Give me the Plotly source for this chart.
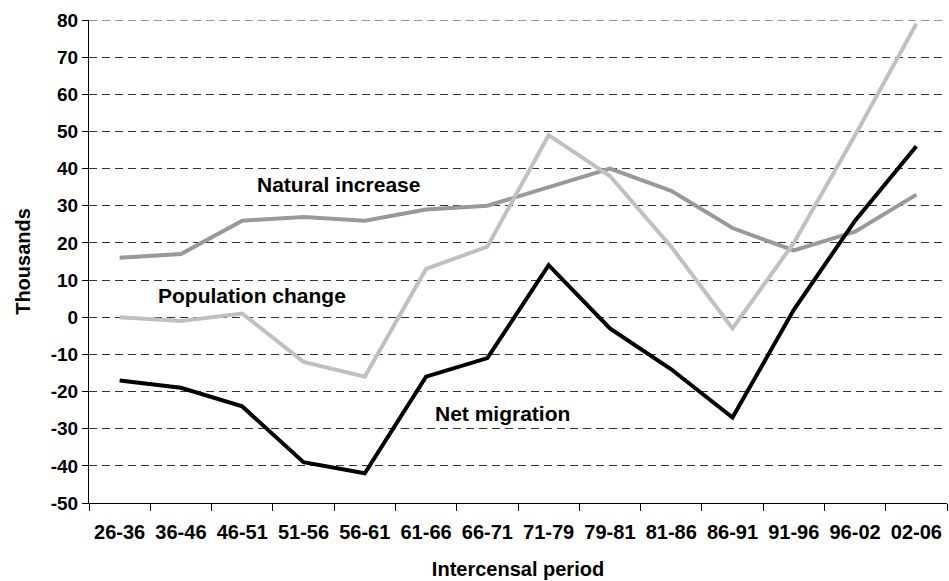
import plotly.graph_objects as go

periods = ["26-36", "36-46", "46-51", "51-56", "56-61", "61-66", "66-71",
           "71-79", "79-81", "81-86", "86-91", "91-96", "96-02", "02-06"]
natural_increase = [16, 17, 26, 27, 26, 29, 30, 35, 40, 34, 24, 18, 23, 33]
population_change = [0, -1, 1, -12, -16, 13, 19, 49, 38, 19, -3, 20, 49, 79]
net_migration = [-17, -19, -24, -39, -42, -16, -11, 14, -3, -14, -27, 2, 26, 46]
y_ticks = [-50, -40, -30, -20, -10, 0, 10, 20, 30, 40, 50, 60, 70, 80]
y_tick_labels = ["-50", "-40", "-30", "-20", "-10", "0", "10", "20", "30",
                 "40", "50", "60", "70", "80"]
y_max = 80

FONT = "Liberation Sans, Arial, sans-serif"

fig = go.Figure()
fig.add_trace(go.Scatter(x=periods, y=natural_increase, mode="lines",
                         name="Natural increase", line=dict(color="#999999", width=4)))
fig.add_trace(go.Scatter(x=periods, y=population_change, mode="lines",
                         name="Population change", line=dict(color="#c0c0c0", width=4)))
fig.add_trace(go.Scatter(x=periods, y=net_migration, mode="lines",
                         name="Net migration", line=dict(color="#000000", width=4)))

# top gridline (plotly culls gridlines at the range edge)
fig.add_shape(type="line", xref="paper", yref="y", x0=0, x1=1, y0=y_max, y1=y_max,
              line=dict(color="#333333", width=1, dash="8px,5px"), layer="below")

H = 581
T, B = 20, 78
annots = [("<b>Natural increase</b>", 0.291, 184),
          ("<b>Population change</b>", 0.190, 295),
          ("<b>Net migration</b>", 0.4825, 413)]
for text, xp, ypix in annots:
    yp = 1 - (ypix - T) / (H - T - B)
    fig.add_annotation(text=text, x=xp, y=yp, xref="paper", yref="paper",
                       xanchor="center", yanchor="middle",
                       showarrow=False, font=dict(family=FONT, size=21, color="black"))

fig.update_layout(
    width=949, height=581,
    margin=dict(l=89, r=2, t=T, b=B, autoexpand=False),
    plot_bgcolor="white", paper_bgcolor="white",
    showlegend=False,
    font=dict(family=FONT, size=19, color="black"),
)
fig.update_xaxes(
    type="category", tickson="boundaries", ticks="outside", ticklen=7, tickcolor="black",
    showline=True, linecolor="black", linewidth=1, showgrid=False, automargin=False,
    tickfont=dict(family=FONT, size=20, color="black"),
    tickprefix="<b>", ticksuffix="</b>", ticklabelstandoff=11,
    title=dict(text="<b>Intercensal period</b>", font=dict(family=FONT, size=20), standoff=19),
    range=[-0.5, 13.5],
)
fig.update_yaxes(
    range=[-50, y_max], tickvals=y_ticks, ticktext=["<b>%s</b>" % t for t in y_tick_labels],
    ticks="outside", ticklen=6, tickcolor="black",
    showline=True, linecolor="black", linewidth=1, automargin=False,
    showgrid=True, gridcolor="#333333", gridwidth=1, griddash="8px,5px",
    zeroline=False,
    tickfont=dict(family=FONT, size=19, color="black"),
    title=dict(text="<b>Thousands</b>", font=dict(family=FONT, size=20), standoff=14),
)

fig.write_html("out.html", config={"displayModeBar": False},
               post_script="document.body.style.margin='0';")
